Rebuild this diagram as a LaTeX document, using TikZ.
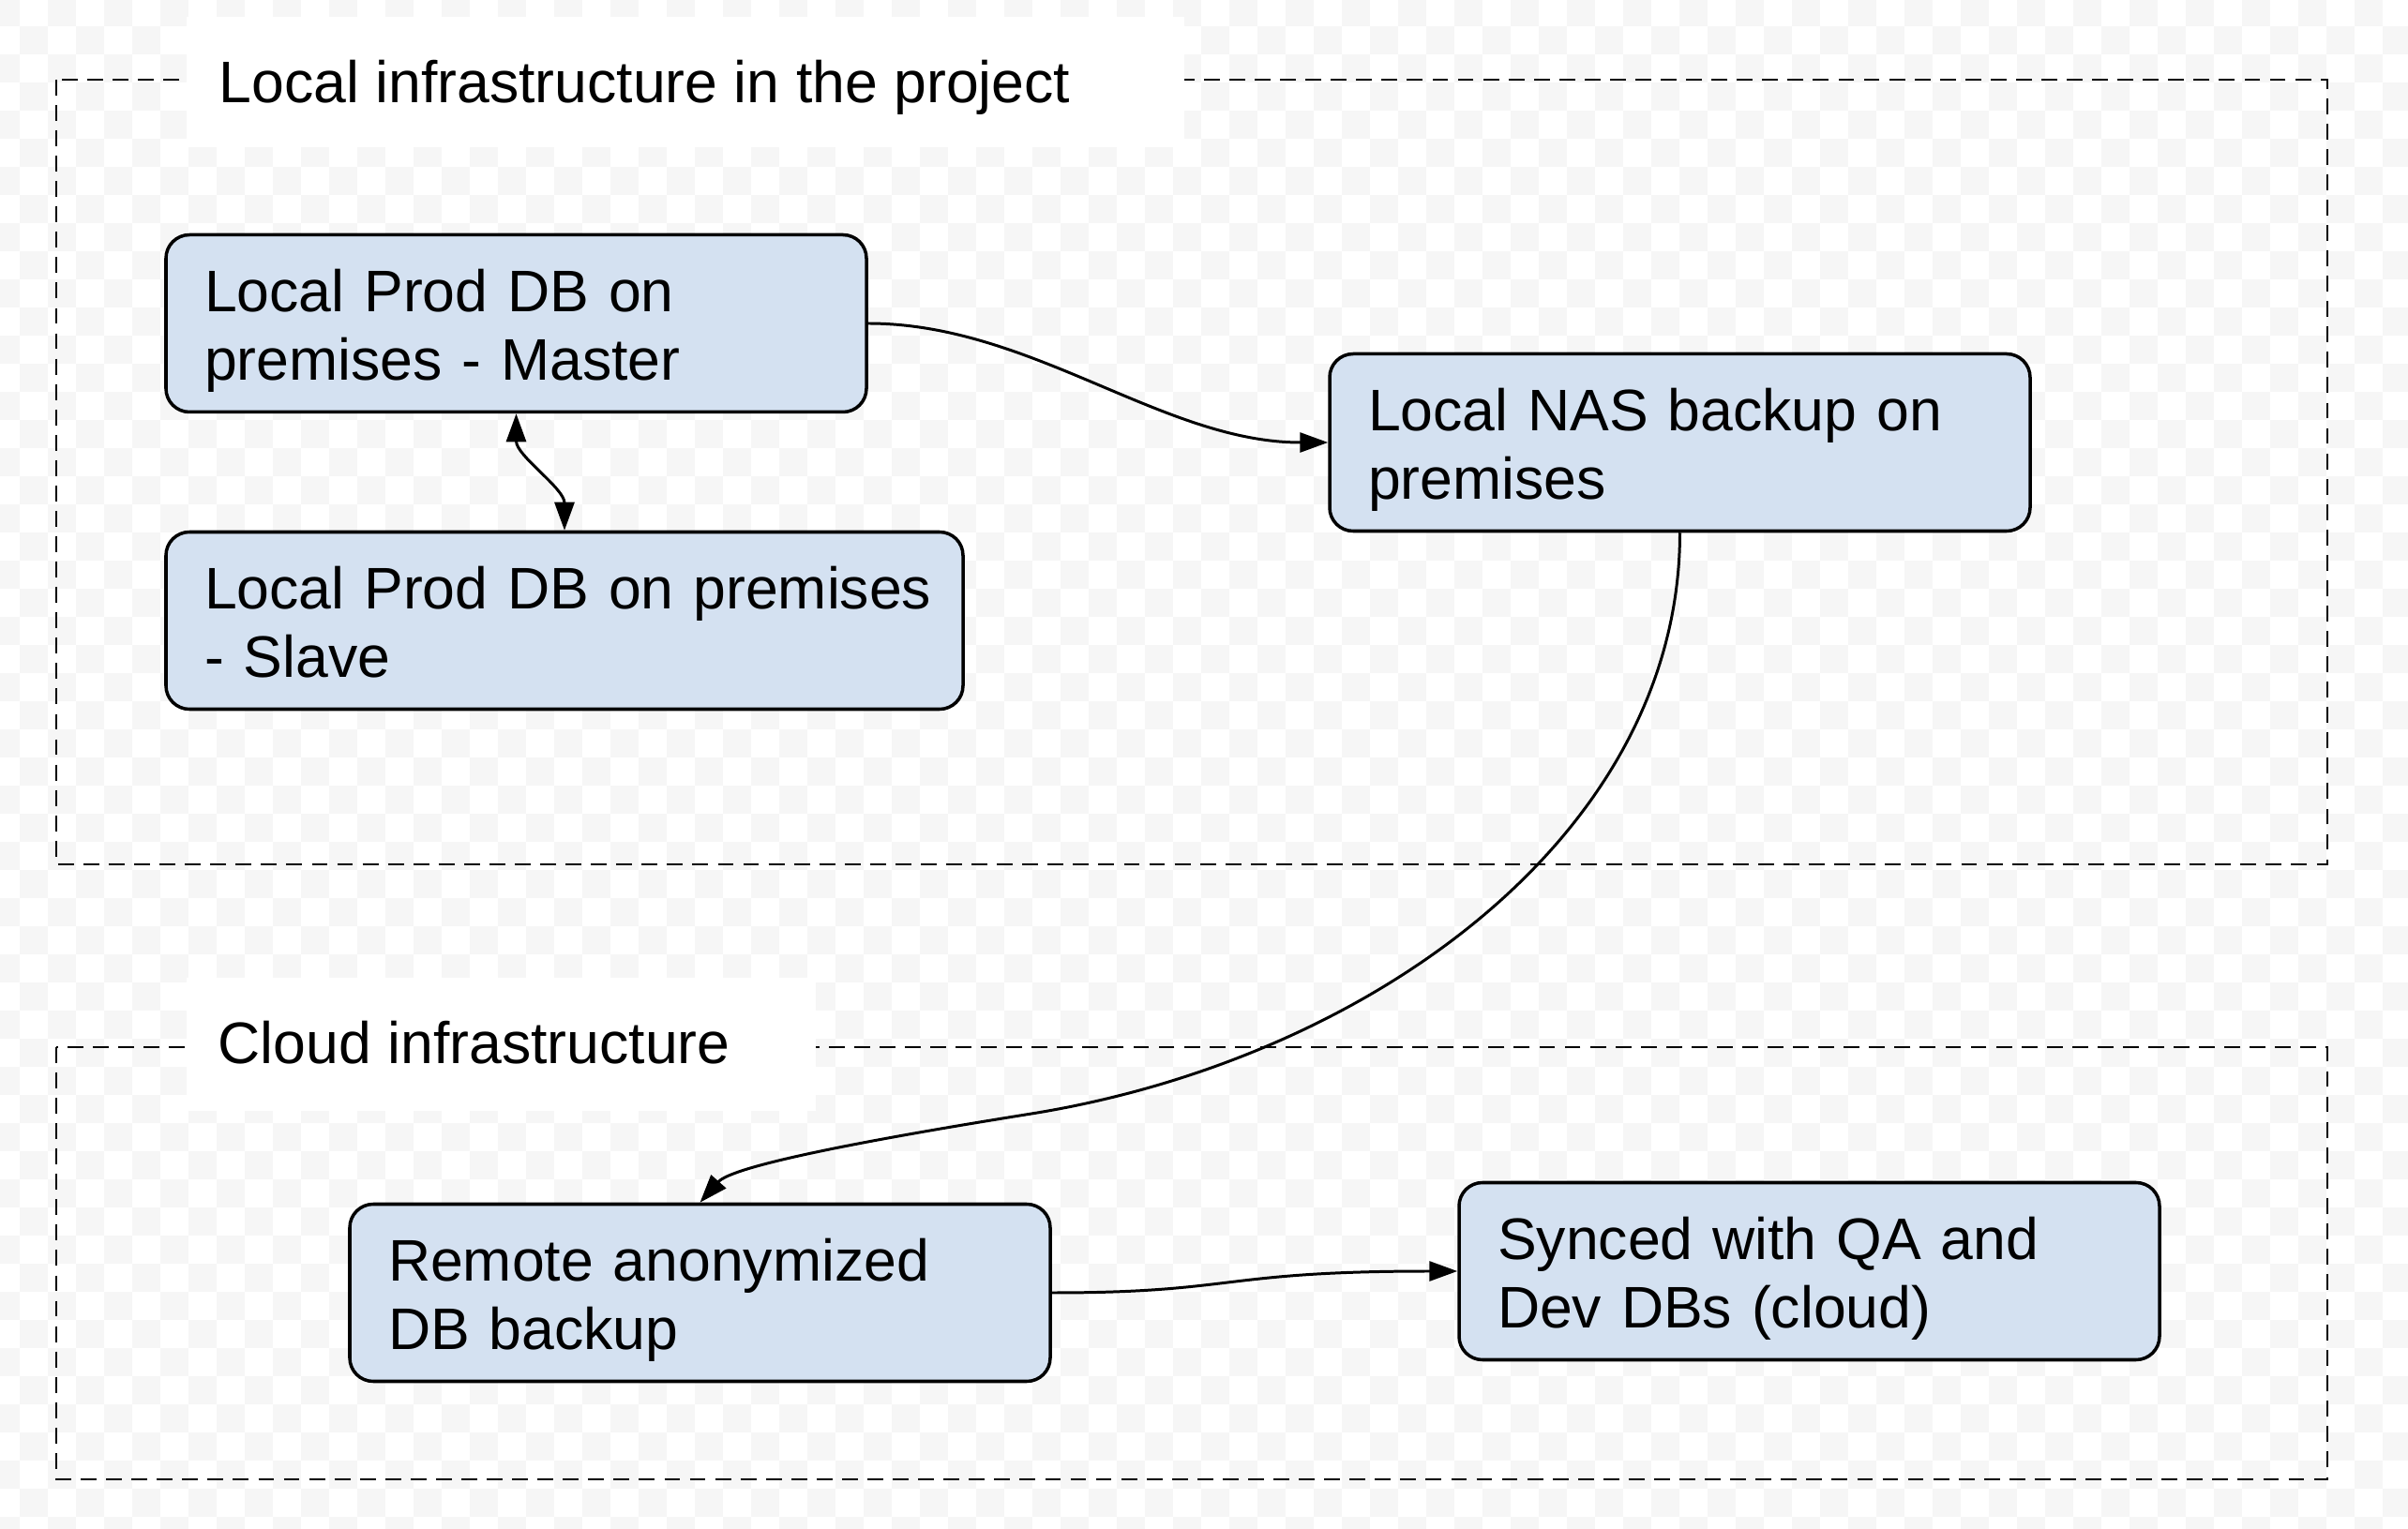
\documentclass[tikz,border=0pt]{standalone}
\usepackage{fontspec}
\setmainfont{Liberation Sans}
\usetikzlibrary{arrows.meta}
\definecolor{boxblue}{RGB}{212,225,241}
\definecolor{checkgray}{RGB}{246,246,246}

\begin{document}
\begin{tikzpicture}[
        box/.style={draw, line width=1pt, fill=boxblue, rounded corners=0.25cm, minimum height=1.89cm, inner xsep=0.41cm, align=left, font=\fontsize{17.8}{20.8}\selectfont,
            execute at begin node={\rule{0pt}{17.9pt}}, execute at end node={\rule[-4pt]{0pt}{4pt}}},
        frame/.style={line width=0.7pt, dash pattern=on 4.8pt off 2.9pt},
        title/.style={anchor=base west, inner sep=0pt, font=\fontsize{17.8}{20.8}\selectfont},
        flow/.style={line width=0.85pt, -{Triangle[length=0.3cm, width=0.21cm]}},
        twoway/.style={line width=0.85pt, {Triangle[length=0.3cm, width=0.21cm]}-{Triangle[length=0.3cm, width=0.21cm]}}
    ]
            \useasboundingbox (0,0) rectangle (25.68,16.30);

            % checker background
            \begin{scope}
                \clip (0,0) rectangle (25.68,16.30);
                \foreach \i in {0,...,86}
                    \foreach \j in {0,2,...,56}
                    {
                        \pgfmathtruncatemacro{\r}{\j+mod(\i,2)}
                        \fill[checkgray] (\i*0.3-0.09, \r*0.3-0.177) rectangle ++(0.3,0.3);
                    }
            \end{scope}

            % groups
            \draw[frame] (0.60,15.45) rectangle (24.82,7.08);
            \draw[frame] (0.60,5.13) rectangle (24.82,0.52);
            \fill[white] (1.99,16.12) rectangle (12.63,14.73);
            \fill[white] (1.99,5.87) rectangle (8.70,4.45);
            \node (localtitle) at (2.33,15.20)[title]{Local infrastructure in the project};
            \node (cloudtitle) at (2.32,4.95)[title]{Cloud infrastructure};

            % boxes
            \node (master) at (5.505,12.85)[box, text width=6.65cm]{Local Prod DB on\\premises - Master};
            \node (slave) at (6.02,9.68)[box, text width=7.68cm]{\mbox{Local Prod DB on premises}\\- Slave};
            \node (nas) at (17.915,11.58)[box, text width=6.65cm]{Local NAS backup on\\premises};
            \node (remote) at (7.465,2.51)[box, text width=6.65cm]{Remote anonymized\\DB backup};
            \node (synced) at (19.295,2.74)[box, text width=6.65cm]{Synced with QA and\\Dev DBs (cloud)};

            % links
            \draw[flow] (master.east) .. controls (11.0,12.85) and (12.4,11.58) .. (nas.west);
            \draw[twoway] (master.south) .. controls +(0,-0.45) and +(0,0.45) .. (slave.north);
            \draw[flow] (nas.south) .. controls +(0,-3.23) and (14.6,5.0) .. (11.0,4.42)
                .. controls (9.0,4.10) and (7.8,3.85) .. (remote.north);
            \draw[flow] (remote.east) .. controls (13.2,2.51) and (13.0,2.74) .. (synced.west);
        \end{tikzpicture}
\end{document}
